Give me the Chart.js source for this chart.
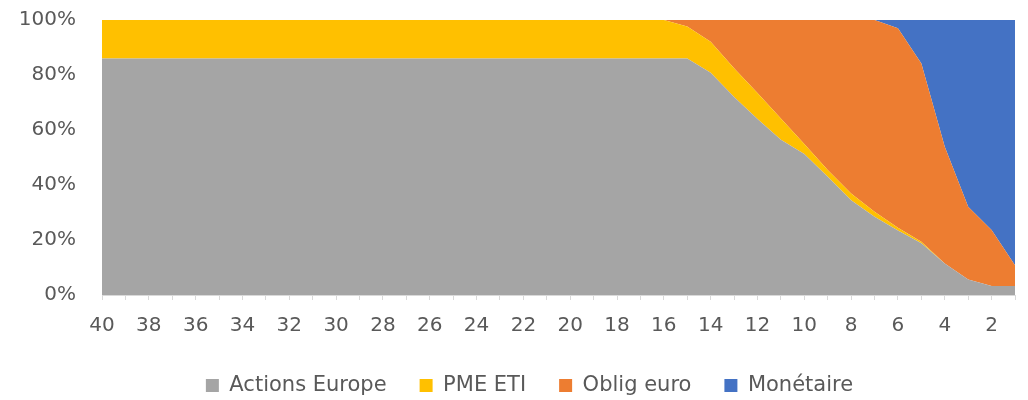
<!DOCTYPE html>
<html>
<head>
<meta charset="utf-8">
<title>Allocation par horizon</title>
<script src="https://cdn.jsdelivr.net/npm/chart.js@4/dist/chart.umd.min.js"></script>
<style>
  html, body { margin: 0; padding: 0; background: #fff; }
  #wrap { width: 1028px; height: 400px; }
</style>
</head>
<body>
<div id="wrap"><canvas id="allocChart" width="1028" height="400"></canvas></div>
<script>
/* years before horizon (x axis) */
const ages = [40, 39, 38, 37, 36, 35, 34, 33, 32, 31, 30, 29, 28, 27, 26, 25, 24, 23, 22, 21,
              20, 19, 18, 17, 16, 15, 14, 13, 12, 11, 10, 9, 8, 7, 6, 5, 4, 3, 2, 1];

/* series, % of portfolio */
const actionsEurope = [86, 86, 86, 86, 86, 86, 86, 86, 86, 86, 86, 86, 86, 86, 86, 86, 86, 86, 86, 86,
                       86, 86, 86, 86, 86, 86, 80.8, 72, 64, 56.5, 51.3, 43, 34.5, 28.5, 23.5, 18.8, 11.5, 5.6, 3.3, 3.3];
const pmeEti = [14, 14, 14, 14, 14, 14, 14, 14, 14, 14, 14, 14, 14, 14, 14, 14, 14, 14, 14, 14,
                14, 14, 14, 14, 14, 11.6, 11.3, 10.5, 9.5, 7.7, 3.6, 2.5, 2.4, 1.8, 1, 0.6, 0, 0, 0, 0];
const obligEuro = [0, 0, 0, 0, 0, 0, 0, 0, 0, 0, 0, 0, 0, 0, 0, 0, 0, 0, 0, 0,
                   0, 0, 0, 0, 0, 2.4, 7.9, 17.5, 26.5, 35.8, 45.1, 54.5, 63.1, 69.7, 72.5, 64.8, 42.4, 26.5, 20.3, 7.5];
const monetaire = [0, 0, 0, 0, 0, 0, 0, 0, 0, 0, 0, 0, 0, 0, 0, 0, 0, 0, 0, 0,
                   0, 0, 0, 0, 0, 0, 0, 0, 0, 0, 0, 0, 0, 0, 3, 15.8, 46.1, 67.9, 76.4, 89.2];

/* y ticks */
const yTicks = [0, 20, 40, 60, 80, 100];

const FONT = '"DejaVu Sans", "Liberation Sans", sans-serif';
const TXT = '#595959';

const areaSet = (label, data, color, fill) => ({
  label: label,
  data: data,
  backgroundColor: color,
  borderColor: color,
  borderWidth: 0,
  pointRadius: 0,
  pointHoverRadius: 0,
  tension: 0,
  fill: fill
});

// legend in the original sits a bit right of the canvas centre
const legendShift = {
  id: 'legendShift',
  afterLayout(chart) {
    if (!chart.legend) return;
    chart.legend.left += 22;
    chart.legend.right += 22;
  }
};

document.addEventListener('DOMContentLoaded', () => {
  const ctx = document.getElementById('allocChart');

  new Chart(ctx, {
    type: 'line',
    data: {
      labels: ages,
      datasets: [
        areaSet('Actions Europe', actionsEurope, '#A5A5A5', 'origin'),
        areaSet('PME ETI', pmeEti, '#FFC000', '-1'),
        areaSet('Oblig euro', obligEuro, '#ED7D31', '-1'),
        areaSet('Monétaire', monetaire, '#4472C4', '-1')
      ]
    },
    plugins: [legendShift],
    options: {
      responsive: false,
      animation: false,
      layout: { padding: { top: 20, right: 13, bottom: 0, left: 0 } },
      plugins: {
        tooltip: { enabled: false },
        legend: {
          position: 'bottom',
          maxHeight: 58,
          labels: {
            boxWidth: 13,
            boxHeight: 13,
            padding: 33,
            color: TXT,
            font: { family: FONT, size: 21 }
          }
        }
      },
      scales: {
        x: {
          offset: false,
          afterFit: s => { s.height = 47; s.paddingRight = 0; },
          grid: {
            display: true,
            drawOnChartArea: false,
            drawTicks: true,
            tickLength: 5,
            color: '#D9D9D9'
          },
          border: { display: true, color: '#D9D9D9' },
          ticks: {
            autoSkip: false,
            maxRotation: 0,
            padding: 14,
            color: TXT,
            font: { family: FONT, size: 20 },
            callback: function (v, i) { return i % 2 === 0 ? String(ages[i]) : ''; }
          }
        },
        y: {
          stacked: true,
          min: 0,
          max: 100,
          afterFit: s => { s.width = 102; s.paddingTop = 0; s.paddingBottom = 0; },
          afterBuildTicks: s => { s.ticks = yTicks.map(v => ({ value: v })); },
          grid: { display: false, drawTicks: false },
          border: { display: false },
          ticks: {
            padding: 26,
            color: TXT,
            font: { family: FONT, size: 20 },
            callback: v => v + '%'
          }
        }
      }
    }
  });
});
</script>
</body>
</html>
